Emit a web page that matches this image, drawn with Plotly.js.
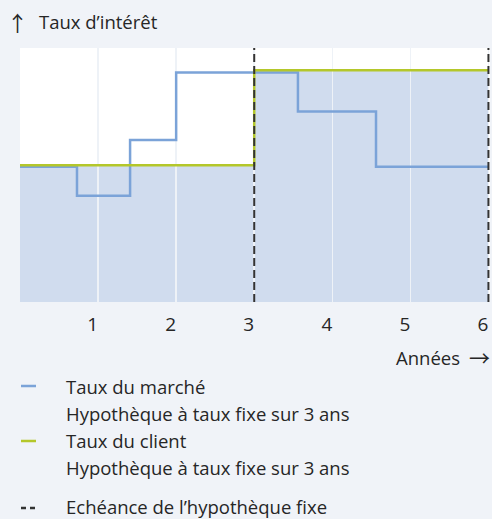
<!DOCTYPE html>
<html><head><meta charset="utf-8">
<script src="https://cdn.plot.ly/plotly-3.0.1.min.js"></script>
<style>html,body{margin:0;padding:0;background:#f0f3f8;}</style>
</head><body><div id="chart" style="width:492px;height:519px;"></div>
<script>
// ---- data ----
const years = [1, 2, 3, 4, 5, 6];
const yearLabels = ['1', '2', '3', '4', '5', '6'];
const marketX = [0, 0.73, 1.41, 2, 3.56, 4.56, 6];
const marketY = [2.66, 2.09, 3.19, 4.52, 3.75, 2.66, 2.66];
const clientX = [0, 3, 6];
const clientY = [2.69, 4.56, 4.56];
const maturities = [3, 6];
const yTop = 5;
const legendTitles = ['Taux du marché', 'Taux du client', 'Echéance de l’hypothèque fixe'];
const legendSub = 'Hypothèque à taux fixe sur 3 ans';
const yTitleText = 'Taux d’intérêt';
const xTitleText = 'Années';

// ---- styling ----
const FONT = 'Open Sans, Noto Sans, sans-serif';
const ARROW_FONT = 'Noto Sans CJK JP, DejaVu Sans, sans-serif';
const TXT = '#262626';
const BLUE = '#7ba3d8';
const GREEN = '#b4c72a';
const FILL = '#d0dcee';
const BG = '#f0f3f8';
const FS = 18.5;
const L = 20, R = 2, T = 48, B = 217, W = 492, H = 519;
const pw = W - L - R, ph = H - T - B;
const px = x => (x - L) / pw;
const py = y => (H - B - y) / ph;

const dashX = [], dashY = [];
maturities.forEach((m, i) => { if (i) { dashX.push(null); dashY.push(null); } dashX.push(m, m); dashY.push(0, yTop); });

const traces = [
  {x: clientX, y: clientY, type: 'scatter', mode: 'lines', line: {shape: 'hv', width: 0, color: FILL},
   fill: 'tozeroy', fillcolor: FILL, xaxis: 'x', yaxis: 'y', hoverinfo: 'skip', showlegend: false},
  {x: marketX, y: marketY, type: 'scatter', mode: 'lines', line: {shape: 'hv', width: 2.5, color: BLUE},
   xaxis: 'x2', yaxis: 'y2', name: legendTitles[0], showlegend: false},
  {x: clientX, y: clientY, type: 'scatter', mode: 'lines', line: {shape: 'hv', width: 2.5, color: GREEN},
   xaxis: 'x2', yaxis: 'y2', name: legendTitles[1], showlegend: false},
  {x: dashX, y: dashY, type: 'scatter', mode: 'lines', line: {width: 2, color: '#333333', dash: '8px,4px'},
   xaxis: 'x2', yaxis: 'y2', name: legendTitles[2], showlegend: false}
];

const xr = [0, 6.02];
const ann = (text, x, y, xanchor, size, family) => ({text, x: px(x), y: py(y), xref: 'paper', yref: 'paper',
  xanchor, yanchor: 'middle', showarrow: false, font: {family: family || FONT, size: size || FS, color: TXT}});

const annotations = [
  ann('↑', 17, 22, 'center', 21, ARROW_FONT),
  ann(yTitleText, 37, 22, 'left'),
  ann(xTitleText, 462, 357, 'right'),
  ann('→', 479, 357, 'center', 21, ARROW_FONT),
  ann(legendTitles[0], 64, 386, 'left'),
  ann(legendSub, 64, 413, 'left'),
  ann(legendTitles[1], 64, 440, 'left'),
  ann(legendSub, 64, 467, 'left'),
  ann(legendTitles[2], 64, 506, 'left')
];

const seg = (x0, x1, y, color, w) => ({type: 'line', xref: 'paper', yref: 'paper',
  x0: px(x0), x1: px(x1), y0: py(y), y1: py(y), line: {color, width: w}});
const shapes = [
  {type: 'rect', xref: 'paper', yref: 'paper', x0: 0, x1: 1, y0: 0, y1: 1, layer: 'below',
   fillcolor: '#ffffff', line: {width: 0}},
  seg(21, 36, 386, BLUE, 2.5),
  seg(21, 36, 441, GREEN, 2.5),
  seg(21, 26, 508, '#333333', 2.5),
  seg(30, 35, 508, '#333333', 2.5)
];

const layout = {
  width: W, height: H,
  margin: {l: L, r: R, t: T, b: B, pad: 0},
  paper_bgcolor: BG, plot_bgcolor: 'rgba(0,0,0,0)',
  showlegend: false,
  font: {family: FONT, color: TXT},
  xaxis: {domain: [0, 1], range: xr, visible: false, fixedrange: true},
  yaxis: {domain: [0, 1], range: [0, yTop], visible: false, fixedrange: true},
  xaxis2: {domain: [0, 1], anchor: 'y2', range: xr, tickvals: years, ticktext: yearLabels,
    showgrid: true, gridcolor: '#eef2f7', gridwidth: 1.5, zeroline: false, showline: false,
    ticks: '', ticklabelposition: 'outside left', ticklabelstandoff: 9,
    tickfont: {family: FONT, size: 19, color: TXT}, fixedrange: true},
  yaxis2: {domain: [0, 1], anchor: 'x2', range: [0, yTop], visible: false, fixedrange: true},
  annotations, shapes
};

Plotly.newPlot('chart', traces, layout, {displayModeBar: false, staticPlot: true});
</script>
</body></html>
